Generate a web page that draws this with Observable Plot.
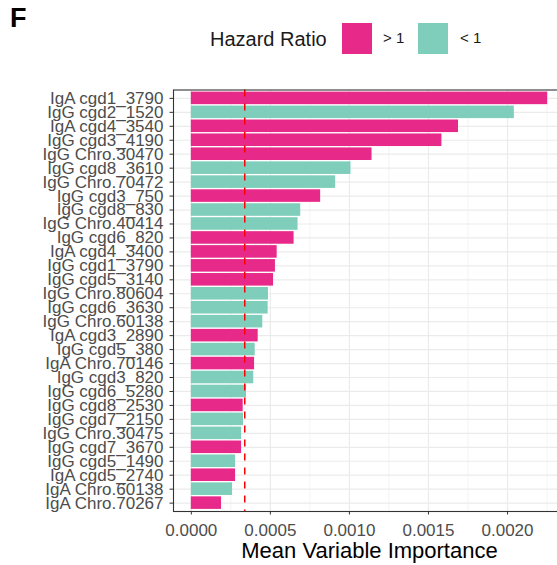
<!DOCTYPE html>
<html>
<head>
<meta charset="utf-8">
<script src="https://cdn.jsdelivr.net/npm/d3@7"></script>
<script src="https://cdn.jsdelivr.net/npm/@observablehq/plot@0.6"></script>
<style>
  html, body { margin: 0; padding: 0; background: #fff; overflow: hidden; }
  #wrap { position: relative; width: 557px; height: 565px; overflow: hidden; font-family: "Liberation Sans", Arial, sans-serif; }
  #wrap svg { position: absolute; left: 0; top: 0; max-width: none !important; width: 557px !important; height: 565px !important; }
  .panel-tag { position: absolute; left: 10px; top: 3px; font-size: 27px; font-weight: bold; color: #000; }
  .leg-title { position: absolute; left: 210px; top: 27px; font-size: 20px; color: #1a1a1a; line-height: 24px; }
  .leg-key { position: absolute; top: 23px; width: 30px; height: 31px; }
  .leg-lab { position: absolute; top: 29px; font-size: 15px; color: #1a1a1a; line-height: 18px; }
</style>
</head>
<body>
<div id="wrap"></div>
<script>
// ---- data ----
const labels = [
  "IgA cgd1_3790", "IgG cgd2_1520", "IgA cgd4_3540", "IgG cgd3_4190", "IgG Chro.30470",
  "IgG cgd8_3610", "IgG Chro.70472", "IgG cgd3_750", "IgG cgd8_830", "IgG Chro.40414",
  "IgG cgd6_820", "IgA cgd4_3400", "IgG cgd1_3790", "IgG cgd5_3140", "IgG Chro.80604",
  "IgG cgd6_3630", "IgG Chro.60138", "IgA cgd3_2890", "IgG cgd5_380", "IgA Chro.70146",
  "IgG cgd3_820", "IgG cgd6_5280", "IgG cgd8_2530", "IgG cgd7_2150", "IgG Chro.30475",
  "IgG cgd7_3670", "IgG cgd5_1490", "IgA cgd5_2740", "IgA Chro.60138", "IgA Chro.70267"
];
const importance = [
  0.002254, 0.002043, 0.001690, 0.001585, 0.001143,
  0.001010, 0.000913, 0.000818, 0.000692, 0.000675,
  0.000650, 0.000543, 0.000532, 0.000520, 0.000488,
  0.000486, 0.000452, 0.000423, 0.000404, 0.000400,
  0.000395, 0.000349, 0.000328, 0.000330, 0.000318,
  0.000318, 0.000280, 0.000280, 0.000261, 0.000191
];
const hazard = [
  "> 1", "< 1", "> 1", "> 1", "> 1",
  "< 1", "< 1", "> 1", "< 1", "< 1",
  "> 1", "> 1", "> 1", "> 1", "< 1",
  "< 1", "< 1", "> 1", "< 1", "> 1",
  "< 1", "< 1", "> 1", "< 1", "< 1",
  "> 1", "< 1", "> 1", "< 1", "> 1"
];
const threshold = [0.000338];
const xTicks = [0, 0.0005, 0.0010, 0.0015, 0.0020];
const xMinorTicks = [0.00025, 0.00075, 0.00125, 0.00175, 0.00225];
const hrCategories = ["> 1", "< 1"];
const hrColors = ["#E7298A", "#7FCDBB"];
const legendTitle = "Hazard Ratio";
const xTitle = "Mean Variable Importance";
const panelTag = "F";

const rows = labels.map((l, i) => ({label: l, value: importance[i], hr: hazard[i]}));

const wrap = document.getElementById("wrap");

// tag + legend (HTML, above the plot area)
const tag = document.createElement("div");
tag.className = "panel-tag"; tag.textContent = panelTag; wrap.appendChild(tag);
const lt = document.createElement("div");
lt.className = "leg-title"; lt.textContent = legendTitle; wrap.appendChild(lt);
const keyLefts = [342, 418];
const labLefts = [383, 460];
hrCategories.forEach((c, i) => {
  const k = document.createElement("div");
  k.className = "leg-key"; k.style.left = keyLefts[i] + "px"; k.style.background = hrColors[i];
  wrap.appendChild(k);
  const t = document.createElement("div");
  t.className = "leg-lab"; t.style.left = labLefts[i] + "px"; t.textContent = c;
  wrap.appendChild(t);
});

const chart = Plot.plot({
  width: 557,
  height: 565,
  marginTop: 89.5,
  marginBottom: 54,
  marginLeft: 173,
  marginRight: -8,
  style: {fontFamily: "'Liberation Sans', Arial, sans-serif", fontSize: "17px", background: "transparent", maxWidth: "none"},
  x: {domain: [-0.0001127, 0.0023667], range: [173, 565]},
  y: {type: "band", domain: labels, range: [89.5, 511], paddingInner: 0.1, paddingOuter: 0.15, round: false},
  color: {domain: hrCategories, range: hrColors},
  marks: [
    Plot.ruleX(xMinorTicks, {stroke: "#ebebeb", strokeWidth: 0.6}),
    Plot.ruleX(xTicks, {stroke: "#ebebeb", strokeWidth: 1.2}),
    Plot.gridY({stroke: "#ebebeb", strokeOpacity: 1, strokeWidth: 1.2}),
    Plot.barX(rows, {x: "value", y: "label", fill: "hr"}),
    Plot.ruleX(threshold, {stroke: "#ff0000", strokeWidth: 1.5, strokeDasharray: "7,7"}),
    Plot.frame({stroke: "#333333", strokeWidth: 1.1}),
    Plot.axisY({tickSize: 3.5, tickPadding: 6.5, fontSize: 17, fill: "#4d4d4d", stroke: "#333333", label: null}),
    Plot.axisX({ticks: xTicks, tickSize: 3.5, tickPadding: 8.5, fontSize: 17, fill: "#4d4d4d", stroke: "#333333",
      tickFormat: d3.format(".4f"), label: null}),
    Plot.text([xTitle], {frameAnchor: "bottom", dy: 46, fontSize: 22, fill: "#000", text: d => d})
  ]
});
wrap.appendChild(chart);
</script>
</body>
</html>
